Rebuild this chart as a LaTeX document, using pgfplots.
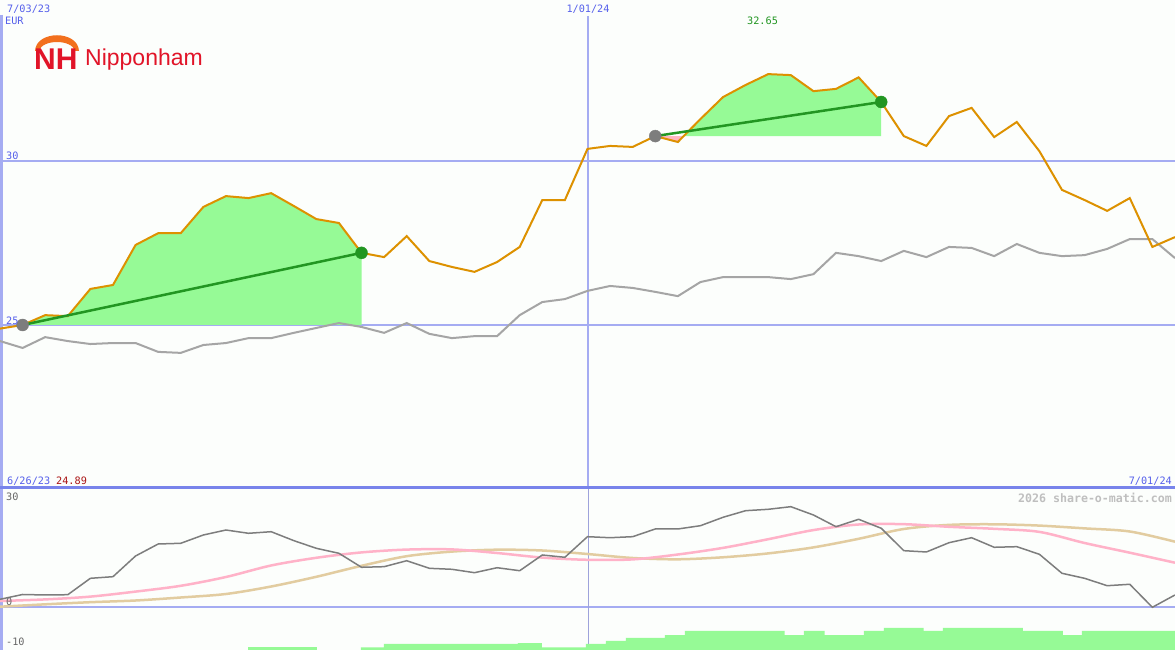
\documentclass[border=0pt]{standalone}
\usepackage{pgfplots}
\pgfplotsset{compat=1.18}
\usepackage{fontspec}
\setmainfont{DejaVu Sans Mono}
\newfontfamily\logofont{Liberation Sans}

\definecolor{bg}{RGB}{252,254,252}
\definecolor{price}{RGB}{221,145,0}
\definecolor{bench}{RGB}{165,165,165}
\definecolor{gfill}{RGB}{150,250,150}
\definecolor{gline}{RGB}{34,150,34}
\definecolor{pfill}{RGB}{255,182,193}
\definecolor{grid}{RGB}{165,172,242}
\definecolor{sep}{RGB}{120,132,235}
\definecolor{lblue}{RGB}{85,95,235}
\definecolor{lred}{RGB}{170,20,20}
\definecolor{dgray}{RGB}{125,125,125}
\definecolor{pink}{RGB}{255,178,200}
\definecolor{tan}{RGB}{226,204,160}
\definecolor{nhred}{RGB}{225,20,40}
\definecolor{nhorange}{RGB}{242,112,30}

\begin{document}
\begin{tikzpicture}
% background, frame lines
\begin{scope}[x=1pt,y=1pt]
\fill[bg] (0,0) rectangle (1175,-650);
\draw[grid, line width=2pt] (0,-161) -- (1175,-161);
\draw[grid, line width=2pt] (0,-325) -- (1175,-325);
\draw[grid, line width=2pt] (0,-607) -- (1175,-607);
\draw[grid, line width=1.5pt] (588,-16) -- (588,-487);
\draw[grid!80!gray, line width=0.8pt] (588,-487) -- (588,-650);
\draw[grid, line width=3pt] (1,-15) -- (1,-650);
\draw[sep, line width=3pt] (0,-487) -- (1175,-487);
\end{scope}

% price panel
\begin{axis}[
    at={(0,0)}, anchor=north west,
    scale only axis, width=1175pt, height=487pt,
    xmin=0, xmax=52, ymin=20.06, ymax=34.91,
    hide axis,
]
% gain areas
\addplot[fill=gfill, draw=none] coordinates {
    (1,25.00) (2,25.30) (3,25.27) (4,26.10) (5,26.22) (6,27.44) (7,27.80)
    (8,27.80) (9,28.60) (10,28.93) (11,28.87) (12,29.02) (13,28.63)
    (14,28.23) (15,28.11) (16,27.20) (16,25.00)
} --cycle;
\addplot[fill=gfill, draw=none] coordinates {
    (30.26,30.76) (31,31.28) (32,31.95) (33,32.32) (34,32.65) (35,32.62)
    (36,32.13) (37,32.20) (38,32.55) (39,31.80) (39,30.76)
} --cycle;
\addplot[fill=pfill, draw=none] coordinates {
    (29,30.76) (30,30.58) (30.26,30.76)
} --cycle;

% benchmark
\addplot[bench, line width=2pt] coordinates {
    (0,24.51) (1,24.30) (2,24.63) (3,24.51) (4,24.42) (5,24.45) (6,24.45)
    (7,24.18) (8,24.15) (9,24.39) (10,24.45) (11,24.60) (12,24.60)
    (13,24.76) (14,24.91) (15,25.06) (16,24.94) (17,24.76) (18,25.06)
    (19,24.73) (20,24.60) (21,24.66) (22,24.66) (23,25.30) (24,25.70)
    (25,25.79) (26,26.04) (27,26.19) (28,26.13) (29,26.01) (30,25.88)
    (31,26.31) (32,26.46) (33,26.46) (34,26.46) (35,26.40) (36,26.55)
    (37,27.20) (38,27.10) (39,26.95) (40,27.26) (41,27.07) (42,27.38)
    (43,27.35) (44,27.10) (45,27.47) (46,27.20) (47,27.10) (48,27.13)
    (49,27.32) (50,27.62) (51,27.62) (52,27.04)
};

% price
\addplot[price, line width=2pt] coordinates {
    (0,24.89) (1,25.00) (2,25.30) (3,25.27) (4,26.10) (5,26.22) (6,27.44)
    (7,27.80) (8,27.80) (9,28.60) (10,28.93) (11,28.87) (12,29.02)
    (13,28.63) (14,28.23) (15,28.11) (16,27.20) (17,27.07) (18,27.71)
    (19,26.95) (20,26.77) (21,26.62) (22,26.92) (23,27.38) (24,28.81)
    (25,28.81) (26,30.37) (27,30.46) (28,30.43) (29,30.76) (30,30.58)
    (31,31.28) (32,31.95) (33,32.32) (34,32.65) (35,32.62) (36,32.13)
    (37,32.20) (38,32.55) (39,31.80) (40,30.76) (41,30.46) (42,31.37)
    (43,31.62) (44,30.73) (45,31.19) (46,30.30) (47,29.12) (48,28.81)
    (49,28.48) (50,28.87) (51,27.38) (52,27.68)
};

% trend lines and points
\addplot[gline, line width=2.5pt] coordinates {(1,25.00) (16,27.20)};
\addplot[gline, line width=2.5pt] coordinates {(29,30.76) (39,31.80)};
\addplot[only marks, mark=*, mark size=6pt, dgray] coordinates {(1,25.00) (29,30.76)};
\addplot[only marks, mark=*, mark size=6pt, gline] coordinates {(16,27.20) (39,31.80)};
\end{axis}

% indicator panel
\begin{axis}[
    at={(0,-487pt)}, anchor=north west,
    scale only axis, width=1175pt, height=163pt,
    xmin=0, xmax=52, ymin=-12.17, ymax=33.96,
    hide axis,
]
\addplot[fill=gfill, draw=none] coordinates {
    (10.97,-13) (10.97,-11.41) (14.03,-11.41) (14.03,-13)
} --cycle;
\addplot[fill=gfill, draw=none] coordinates {
    (15.97,-13)
    (15.97,-11.41) (16.99,-11.41)
    (16.99,-10.47) (22.92,-10.47)
    (22.92,-10.19) (23.98,-10.19)
    (23.98,-11.41) (25.93,-11.41)
    (25.93,-10.47) (26.81,-10.47)
    (26.81,-9.62) (27.70,-9.62)
    (27.70,-8.77) (29.42,-8.77)
    (29.42,-7.93) (30.31,-7.93)
    (30.31,-6.79) (34.73,-6.79)
    (34.73,-7.93) (35.58,-7.93)
    (35.58,-6.79) (36.50,-6.79)
    (36.50,-7.93) (38.23,-7.93)
    (38.23,-6.79) (39.12,-6.79)
    (39.12,-5.94) (40.88,-5.94)
    (40.88,-6.79) (41.73,-6.79)
    (41.73,-5.94) (45.27,-5.94)
    (45.27,-6.79) (47.04,-6.79)
    (47.04,-7.93) (47.88,-7.93)
    (47.88,-6.79) (52.5,-6.79)
    (52.5,-13)
} --cycle;

\addplot[tan, line width=2.5pt, smooth] coordinates {
    (0,0.08) (2,0.76) (4,1.36) (6,1.84) (8,2.69) (10,3.68) (12,5.80)
    (14,8.55) (16,11.66) (18,14.38) (20,15.68) (22,16.22) (24,15.99)
    (26,15.00) (28,13.87) (30,13.50) (32,14.07) (34,15.17) (36,16.87)
    (38,19.30) (40,22.08) (42,23.24) (44,23.41) (46,23.04) (48,22.25)
    (50,21.37) (52,18.48)
};
\addplot[pink, line width=2.5pt, smooth] coordinates {
    (0,1.70) (2,2.15) (4,2.94) (6,4.36) (8,6.00) (10,8.49) (12,11.75)
    (14,13.93) (16,15.45) (18,16.25) (20,16.30) (22,15.28) (24,13.98)
    (26,13.36) (28,13.47) (30,14.86) (32,16.73) (34,19.19) (36,21.77)
    (38,23.35) (40,23.44) (42,22.70) (44,22.13) (46,21.26) (48,18.11)
    (50,15.37) (52,12.54)
};
\addplot[dgray, line width=1.5pt] coordinates {
    (0,2.18) (1,3.54) (2,3.40) (3,3.48) (4,8.12) (5,8.58) (6,14.44)
    (7,17.83) (8,18.03) (9,20.38) (10,21.79) (11,20.86) (12,21.31)
    (13,18.79) (14,16.61) (15,15.20) (16,11.24) (17,11.41) (18,13.10)
    (19,10.95) (20,10.67) (21,9.71) (22,11.12) (23,10.27) (24,14.72)
    (25,14.07) (26,19.90) (27,19.61) (28,19.90) (29,22.08) (30,22.08)
    (31,23.01) (32,25.39) (33,27.26) (34,27.65) (35,28.39) (36,26.04)
    (37,22.73) (38,24.82) (39,22.28) (40,15.94) (41,15.57) (42,18.20)
    (43,19.61) (44,16.90) (45,17.07) (46,14.92) (47,9.54) (48,8.12)
    (49,6.03) (50,6.43) (51,-0.08) (52,3.40)
};
\end{axis}

% texts and logo
\begin{scope}[x=1pt,y=1pt, every node/.style={inner sep=0pt, font=\fontsize{10.2}{11}\selectfont}]
\node[anchor=base west, text=lblue] at (7,-13) {7/03/23};
\node[anchor=base west, text=lblue] at (5,-25) {EUR};
\node[anchor=base, text=lblue] at (588,-13) {1/01/24};
\node[anchor=base west, text=gline] at (747,-25) {32.65};
\node[anchor=base west, text=lblue] at (6,-160) {30};
\node[anchor=base west, text=lblue] at (6,-324) {25};
\node[anchor=base west, text=lblue] at (7,-484) {6/26/23};
\node[anchor=base west, text=lred] at (56,-484) {24.89};
\node[anchor=base east, text=lblue] at (1172,-484) {7/01/24};
\node[anchor=base east, text=black!25, font=\fontsize{11.6}{12}\selectfont\bfseries] at (1172,-502) {2026 share-o-matic.com};
\node[anchor=base west, text=black!60] at (6,-500) {30};
\node[anchor=base west, text=black!60] at (6,-605) {0};
\node[anchor=base west, text=black!60] at (6,-645) {-10};
% logo
\fill[nhorange] (35,-51) .. controls (36,-30) and (78,-30) .. (79,-51)
    -- (75,-51) .. controls (72,-39) and (42,-39) .. (39,-51) -- cycle;
\node[anchor=base west, text=nhred, font=\logofont\fontsize{30}{30}\selectfont\bfseries] at (34,-70) {NH};
\node[anchor=base west, text=nhred, font=\logofont\fontsize{23}{24}\selectfont] at (85,-66) {Nipponham};
\end{scope}

\pgfresetboundingbox
\path[use as bounding box] (0,-650pt) rectangle (1175pt,0);
\end{tikzpicture}
\end{document}
